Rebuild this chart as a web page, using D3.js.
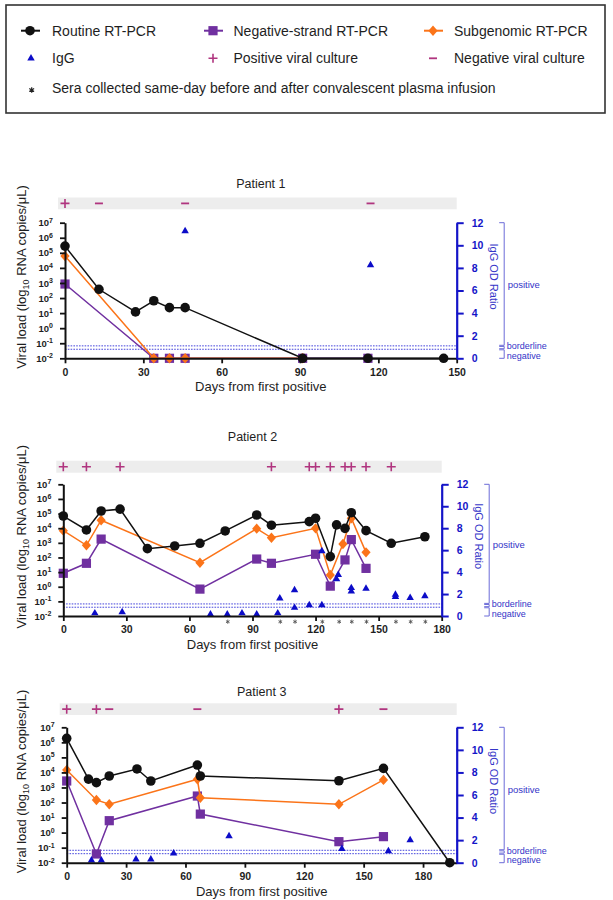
<!DOCTYPE html>
<html><head><meta charset="utf-8">
<script src="https://cdn.jsdelivr.net/npm/d3@7"></script>
<style>body{margin:0;background:#fff;} svg{display:block;font-family:"Liberation Sans",Arial,sans-serif;}</style>
</head><body><svg id="c" width="613" height="900"></svg>
<script>
// ---------------- DATA ----------------
// Patient 1
const p1RoutineDays = [0, 13, 27, 34, 40, 46, 91, 116, 145];
const p1Routine     = [2.8e5, 380, 12, 66, 23, 23, 0.01, 0.01, 0.01];
const p1NegDays     = [0, 34, 40, 46, 91, 116];
const p1Neg         = [850, 0.01, 0.01, 0.01, 0.01, 0.01];
const p1SgDays      = [0, 34, 40, 46, 91];
const p1Sg          = [6.2e4, 0.01, 0.01, 0.01, 0.01];
const p1IgGDays     = [46, 117];
const p1IgG         = [11.2, 8.2];
const p1CulturePos  = [0];
const p1CultureNeg  = [13, 46, 117];
const p1Asterisks   = [];
const p1XTicks      = [0, 30, 60, 90, 120, 150];

// Patient 2
const p2RoutineDays = [0, 11, 18, 27, 40, 53, 65, 77, 92, 99, 117, 120, 127, 130, 134, 137, 144, 156, 172];
const p2Routine     = [6.8e4, 7.6e3, 1.5e5, 2.0e5, 400, 610, 930, 6.5e3, 8e4, 1.6e4, 2.8e4, 4.8e4, 115, 1.7e4, 9.8e3, 1.15e5, 6.8e3, 930, 2.6e3];
const p2SgDays      = [0, 11, 18, 65, 92, 99, 120, 127, 133, 137, 144];
const p2Sg          = [6.8e3, 680, 3.5e4, 44, 9.3e3, 2.2e3, 9.8e3, 6.3, 830, 4.8e4, 224];
const p2NegDays     = [0, 11, 18, 65, 92, 99, 120, 127, 134, 137, 144];
const p2Neg         = [8.3, 40, 1.8e3, 0.69, 78, 40, 166, 1.1, 68, 1.66e3, 18];
const p2IgGDays     = [15, 28, 70, 78, 85, 92, 102, 103, 110, 110, 117, 123, 123, 130, 130.8, 137, 137, 144, 158, 158, 165, 172];
const p2IgG         = [0.2, 0.3, 0.1, 0.1, 0.2, 0.1, 0.2, 1.55, 0.7, 2.3, 0.94, 0.94, 5.86, 3.3, 3.7, 2.2, 2.5, 2.45, 1.7, 1.9, 1.6, 1.76];
const p2CulturePos  = [0, 11, 27, 99, 117, 120, 127, 134, 137, 144, 156];
const p2CultureNeg  = [];
const p2Asterisks   = [78, 103, 110, 123, 131, 137, 144, 158, 165, 172];
const p2XTicks      = [0, 30, 60, 90, 120, 150, 180];

// Patient 3
const p3RoutineDays = [0, 11, 15, 21.5, 35.5, 42.5, 66, 67.5, 137.5, 160, 193.5];
const p3Routine     = [1.86e6, 3.6e3, 2.1e3, 5.8e3, 1.7e4, 2.7e3, 3.1e4, 5.8e3, 2.8e3, 1.86e4, 0.01];
const p3SgDays      = [0, 15, 21.5, 66, 67.5, 137.5, 160];
const p3Sg          = [1.45e4, 148, 76, 3.5e3, 209, 76, 3.2e3];
const p3NegDays     = [0, 15, 21.5, 66, 67.5, 137.5, 160];
const p3Neg         = [2.7e3, 0.038, 6.2, 270, 17, 0.25, 0.54];
const p3IgGDays     = [12.5, 17.5, 35, 42.5, 54, 82, 139, 162.5, 173.5];
const p3IgG         = [0.15, 0.15, 0.25, 0.25, 0.77, 2.3, 1.18, 0.98, 1.95];
const p3CulturePos  = [0, 15, 137.5];
const p3CultureNeg  = [21.5, 66, 160];
const p3Asterisks   = [];
const p3XTicks      = [0, 30, 60, 90, 120, 150, 180];

// shared
const yTickValues   = [1e-2, 1e-1, 1, 1e1, 1e2, 1e3, 1e4, 1e5, 1e6, 1e7];
const rightTicks    = [0, 2, 4, 6, 8, 10, 12];
const borderlineLimits = [0.8, 1.1];
const iggRanges = [
  {label: 'positive',   lo: 1.15, hi: 12},
  {label: 'borderline', lo: 0.85, hi: 1.05},
  {label: 'negative',   lo: 0,    hi: 0.75}
];
const legendRows = [
  [{t:'Routine RT-PCR', m:'routine'}, {t:'Negative-strand RT-PCR', m:'neg'}, {t:'Subgenomic RT-PCR', m:'sg'}],
  [{t:'IgG', m:'igg'}, {t:'Positive viral culture', m:'pos'}, {t:'Negative viral culture', m:'negc'}],
  [{t:'Sera collected same-day before and after convalescent plasma infusion', m:'ast'}]
];

// ---------------- STYLE ----------------
const COL = {black:'#111111', purple:'#7030a0', orange:'#fb7419', blue:'#0c0cc8',
  axisBlue:'#1414c8', culture:'#b0357f', band:'#ededed', dot:'#4646dc',
  bracket:'#6c6cd8', btext:'#3434c8', text:'#1e1e1e'};

const svg = d3.select('#c');

function diamondPath(cx, cy, hw, hh){ return `M${cx},${cy-hh}L${cx+hw},${cy}L${cx},${cy+hh}L${cx-hw},${cy}Z`; }
function asteriskPath(cx, cy, r){
  let d = '';
  [90, 30, 150].forEach(a => {
    const rad = a*Math.PI/180, dx = r*Math.cos(rad), dy = r*Math.sin(rad);
    d += `M${cx-dx},${cy-dy}L${cx+dx},${cy+dy}`;
  });
  return d;
}

function drawMarker(g, type, cx, cy){
  if(type==='routine') g.append('circle').attr('cx',cx).attr('cy',cy).attr('r',4.8).attr('fill',COL.black);
  else if(type==='neg') g.append('rect').attr('x',cx-4.6).attr('y',cy-4.6).attr('width',9.2).attr('height',9.2).attr('fill',COL.purple);
  else if(type==='sg') g.append('path').attr('d',diamondPath(cx,cy,4.6,5.2)).attr('fill',COL.orange);
  else if(type==='igg') g.append('path').attr('transform',`translate(${cx},${cy})`).attr('d',d3.symbol(d3.symbolTriangle,24)()).attr('fill',COL.blue);
  else if(type==='pos') g.append('path').attr('d',`M${cx-4.5},${cy}h9M${cx},${cy-4.5}v9`).attr('stroke',COL.culture).attr('stroke-width',1.6);
  else if(type==='negc') g.append('path').attr('d',`M${cx-4},${cy}h8`).attr('stroke',COL.culture).attr('stroke-width',1.8);
}

// ---------------- LEGEND ----------------
const lg = svg.append('g');
lg.append('rect').attr('x',6).attr('y',5).attr('width',599).attr('height',108).attr('fill','none').attr('stroke','#333').attr('stroke-width',1.6);
const legendY = [30.7, 58.3, 88.3];
const legendMX = [30, 213, 433];
const legendTX = [52, 233.5, 454];
legendRows.forEach((row, ri) => {
  row.forEach((item, ci) => {
    const cy = legendY[ri], mx = legendMX[ci];
    if(item.m==='routine'||item.m==='neg'||item.m==='sg'){
      const c = item.m==='routine'?COL.black:(item.m==='neg'?COL.purple:COL.orange);
      lg.append('line').attr('x1',mx-9).attr('x2',mx+10).attr('y1',cy).attr('y2',cy).attr('stroke',c).attr('stroke-width',2);
      drawMarker(lg, item.m, mx, cy);
    } else if(item.m==='ast'){
      lg.append('path').attr('d',asteriskPath(mx+1.7,cy+1.7,2.8)).attr('stroke','#222').attr('stroke-width',1.2).attr('fill','none');
    } else {
      drawMarker(lg, item.m, mx+(item.m==='igg'?1:0), cy);
    }
    lg.append('text').attr('x',legendTX[ci]).attr('y',cy).attr('dy','0.35em').attr('font-size',14).attr('fill',COL.text).text(item.t);
  });
});

// ---------------- PANELS ----------------
const panels = [
  {title:'Patient 1', L:65, R:456.7, T:222.7, B:358.3, titleY:184, bandT:197.5, bandB:209.3, xMax:150, xTicks:p1XTicks,
   routine:[p1RoutineDays,p1Routine], neg:[p1NegDays,p1Neg], sg:[p1SgDays,p1Sg], igg:[p1IgGDays,p1IgG],
   pos:p1CulturePos, negC:p1CultureNeg, ast:p1Asterisks},
  {title:'Patient 2', L:63.3, R:441.7, T:484.3, B:616, titleY:437, bandT:460.7, bandB:472.7, xMax:180, xTicks:p2XTicks,
   routine:[p2RoutineDays,p2Routine], neg:[p2NegDays,p2Neg], sg:[p2SgDays,p2Sg], igg:[p2IgGDays,p2IgG],
   pos:p2CulturePos, negC:p2CultureNeg, ast:p2Asterisks},
  {title:'Patient 3', L:66.7, R:456.7, T:727.3, B:862.7, titleY:691.5, bandT:703.3, bandB:715, xMax:197, xTicks:p3XTicks,
   routine:[p3RoutineDays,p3Routine], neg:[p3NegDays,p3Neg], sg:[p3SgDays,p3Sg], igg:[p3IgGDays,p3IgG],
   pos:p3CulturePos, negC:p3CultureNeg, ast:p3Asterisks}
];

function drawPanel(p){
  const g = svg.append('g');
  const x = d3.scaleLinear().domain([0,p.xMax]).range([p.L,p.R]);
  const y = d3.scaleLog().domain([1e-2,1e7]).range([p.B,p.T]);
  const yR = d3.scaleLinear().domain([0,12]).range([p.B,p.T]);
  const midX = (p.L+p.R)/2, midY = (p.T+p.B)/2;

  g.append('text').attr('x',midX).attr('y',p.titleY).attr('dy','0.35em').attr('text-anchor','middle')
    .attr('font-size',12.5).attr('fill',COL.text).text(p.title);

  // culture band
  g.append('rect').attr('x',p.L-7).attr('y',p.bandT).attr('width',p.R-p.L+7).attr('height',p.bandB-p.bandT).attr('fill',COL.band);
  const bc = (p.bandT+p.bandB)/2;
  p.pos.forEach(d => drawMarker(g,'pos',x(d),bc));
  p.negC.forEach(d => drawMarker(g,'negc',x(d),bc));

  // IgG threshold dotted lines
  g.selectAll('line.thr').data(borderlineLimits).join('line').attr('class','thr')
    .attr('x1',p.L).attr('x2',p.R).attr('y1',d=>yR(d)).attr('y2',d=>yR(d))
    .attr('stroke',COL.dot).attr('stroke-width',1).attr('stroke-dasharray','1.6,1.2');

  // series
  const line = d3.line().x(d=>x(d[0])).y(d=>y(d[1]));
  const series = [
    {key:'neg', data:d3.zip(p.neg[0],p.neg[1]), c:COL.purple},
    {key:'sg', data:d3.zip(p.sg[0],p.sg[1]), c:COL.orange},
    {key:'routine', data:d3.zip(p.routine[0],p.routine[1]), c:COL.black}
  ];
  series.forEach(s => {
    g.append('path').datum(s.data).attr('d',line).attr('fill','none').attr('stroke',s.c).attr('stroke-width',1.5);
    s.data.forEach(d => drawMarker(g, s.key, x(d[0]), y(d[1])));
  });

  // IgG triangles
  g.selectAll('path.igg').data(d3.zip(p.igg[0],p.igg[1])).join('path').attr('class','igg')
    .attr('transform',d=>`translate(${x(d[0])},${yR(d[1])-0.6})`)
    .attr('d',d3.symbol(d3.symbolTriangle,24)()).attr('fill',COL.blue);

  // asterisks (sera collected before/after plasma infusion)
  g.selectAll('path.ast').data(p.ast).join('path').attr('class','ast')
    .attr('d',d=>asteriskPath(x(d)+0.5, p.B+5.7, 2.1))
    .attr('stroke','#555').attr('stroke-width',0.9).attr('fill','none');

  // axes
  const ax = g.append('g').attr('transform',`translate(${p.L},0)`)
    .call(d3.axisLeft(y).tickValues(yTickValues).tickSize(5).tickPadding(7).tickSizeOuter(0).tickFormat(()=>''));
  ax.select('.domain').attr('stroke',COL.black).attr('stroke-width',2);
  ax.selectAll('.tick line').attr('stroke',COL.black).attr('stroke-width',1.8);
  ax.selectAll('.tick text').attr('font-size',9.5).attr('font-weight','bold').attr('fill',COL.text)
    .attr('font-family','"Liberation Sans",Arial,sans-serif')
    .each(function(d){
      const t = d3.select(this); const e = Math.round(Math.log10(d));
      t.text(null);
      t.append('tspan').text('10');
      t.append('tspan').attr('dy','-0.5em').attr('font-size',7).text(e<0 ? '-'+(-e) : String(e));
    });

  const bx = g.append('g').attr('transform',`translate(0,${p.B})`)
    .call(d3.axisBottom(x).tickValues(p.xTicks).tickSize(5).tickPadding(5).tickSizeOuter(0));
  bx.select('.domain').attr('stroke',COL.black).attr('stroke-width',2);
  bx.selectAll('.tick line').attr('stroke',COL.black).attr('stroke-width',1.8);
  bx.selectAll('.tick text').attr('font-size',10.5).attr('font-weight','bold').attr('fill',COL.text)
    .attr('font-family','"Liberation Sans",Arial,sans-serif');

  const rx = g.append('g').attr('transform',`translate(${p.R},0)`)
    .call(d3.axisRight(yR).tickValues(rightTicks).tickSize(7).tickPadding(8).tickSizeOuter(0));
  rx.select('.domain').attr('stroke',COL.axisBlue).attr('stroke-width',2.2);
  rx.selectAll('.tick line').attr('stroke',COL.axisBlue).attr('stroke-width',2);
  rx.selectAll('.tick text').attr('font-size',10.5).attr('font-weight','bold').attr('fill',COL.axisBlue)
    .attr('font-family','"Liberation Sans",Arial,sans-serif');

  // axis titles
  g.append('text').attr('x',midX).attr('y',p.B+28.5).attr('dy','0.35em').attr('text-anchor','middle')
    .attr('font-size',13).attr('fill',COL.text).text('Days from first positive');
  const yl = g.append('text').attr('transform',`translate(21,${midY-13.5}) rotate(-90)`).attr('text-anchor','middle')
    .attr('dy','0.35em').attr('font-size',13).attr('fill',COL.text);
  yl.append('tspan').text('Viral load (log');
  yl.append('tspan').attr('font-size',9).attr('dy',3).text('10');
  yl.append('tspan').attr('dy',-3).text(' RNA copies/μL)');
  g.append('text').attr('transform',`translate(${p.R+37.5},${midY-14}) rotate(90)`).attr('text-anchor','middle')
    .attr('dy','0.35em').attr('font-size',11).attr('fill',COL.btext).text('IgG OD Ratio');

  // IgG category brackets
  const bxp = p.R+47.5;
  iggRanges.forEach(r => {
    g.append('path').attr('d',`M${bxp-5},${yR(r.hi)}H${bxp}V${yR(r.lo)}H${bxp-5}`)
      .attr('fill','none').attr('stroke',COL.bracket).attr('stroke-width',1);
  });
  g.append('text').attr('x',p.R+51).attr('y',yR(6.5)).attr('dy','0.35em').attr('font-size',9.5).attr('fill',COL.btext).text('positive');
  g.append('text').attr('x',p.R+50).attr('y',yR(1.05)).attr('dy','0.32em').attr('font-size',9).attr('fill',COL.btext).text('borderline');
  g.append('text').attr('x',p.R+50).attr('y',yR(0.2)).attr('dy','0.32em').attr('font-size',9).attr('fill',COL.btext).text('negative');
}

panels.forEach(drawPanel);
</script>
</body></html>
